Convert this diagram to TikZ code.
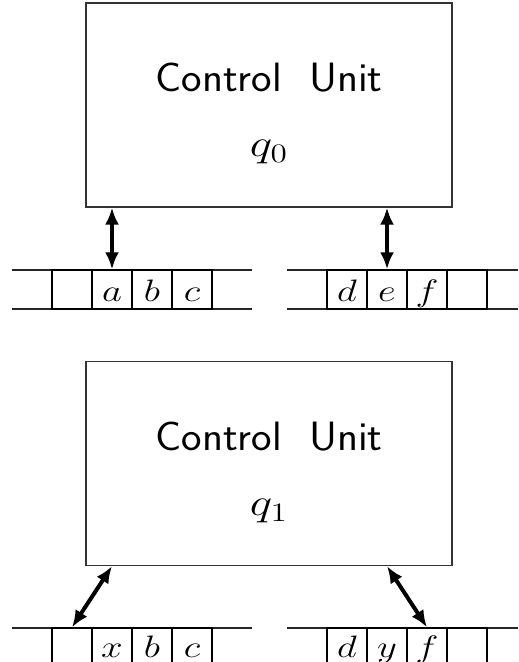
\RequirePackage{fix-cm}
\documentclass[tikz,border=0pt]{standalone}
\usepackage{graphicx}
\usetikzlibrary{arrows.meta}

% wide-set glyphs for the labels
\newcommand{\widesans}[1]{\scalebox{1.06}[1]{#1}}
\newcommand{\widemath}[1]{\scalebox{1.25}[1]{$#1$}}

\begin{document}
\begin{tikzpicture}[x=0.5pt,y=-0.5pt,
  unitbox/.style={draw=black!80, line width=0.65pt, minimum width=183pt, minimum height=102pt, inner sep=0pt},
  unitname/.style={font=\sffamily\fontsize{20.5}{24}\selectfont, inner sep=0pt, anchor=base},
  statename/.style={font=\fontsize{19}{23}\selectfont, inner sep=0pt, anchor=base},
  cell/.style={draw, line width=0.7pt, minimum width=20pt, minimum height=19.5pt, inner sep=0pt,
    text height=13pt, text depth=1.5pt, font=\fontsize{15.5}{18}\selectfont},
  symbol/.style={inner sep=0pt, anchor=base, font=\fontsize{15.5}{18}\selectfont},
  tapeline/.style={line width=0.8pt, draw=black!85},
  headlink/.style={line width=2pt, {Latex[length=8.5pt,width=7pt]}-{Latex[length=8.5pt,width=7pt]}}
]
\useasboundingbox (0,0) rectangle (518,662);

% ---------- configuration q0 ----------
\node[unitbox] (cu0) at (269,105) {};
\node[unitname] (cu0name) at (269,92) {\widesans{Control\ \ Unit}};
\node[statename] (cu0state) at (269,157) {\widemath{q_0}};

% left tape
\draw[tapeline] (12,270) -- (252,270) (12,309) -- (252,309);
\node[cell] (t1c1) at (72,289.5)  {};
\node[cell] (t1c2) at (112,289.5) {\widemath{a}};
\node[cell] (t1c3) at (152,289.5) {\widemath{b}};
\node[cell] (t1c4) at (192,289.5) {\widemath{c}};

% right tape
\draw[tapeline] (287,270) -- (518,270) (287,309) -- (518,309);
\node[cell] (t2c1) at (347,289.5) {\widemath{d}};
\node[cell] (t2c2) at (387,289.5) {\widemath{e}};
\node[cell] (t2c3) at (427,289.5) {\widemath{f}};
\node[cell] (t2c4) at (467,289.5) {};

\draw[headlink] (cu0.south -| t1c2.north) -- (t1c2.north);
\draw[headlink] (cu0.south -| t2c2.north) -- (t2c2.north);

% ---------- configuration q1 ----------
\node[unitbox] (cu1) at (269,463.5) {};
\node[unitname] (cu1name) at (269,450.5) {\widesans{Control\ \ Unit}};
\node[statename] (cu1state) at (269,515.5) {\widemath{q_1}};

% left tape (runs past the lower edge)
\draw[tapeline] (12,628) -- (252,628) (12,667) -- (252,667);
\node[cell] (t3c1) at (72,647.5)  {};
\node[cell] (t3c2) at (112,647.5) {};
\node[cell] (t3c3) at (152,647.5) {};
\node[cell] (t3c4) at (192,647.5) {};
\node[symbol] (t3s2) at (112,657.5) {\widemath{x}};
\node[symbol] (t3s3) at (152,657.5) {\widemath{b}};
\node[symbol] (t3s4) at (192,657.5) {\widemath{c}};

% right tape (runs past the lower edge)
\draw[tapeline] (287,628) -- (518,628) (287,667) -- (518,667);
\node[cell] (t4c1) at (347,647.5) {};
\node[cell] (t4c2) at (387,647.5) {};
\node[cell] (t4c3) at (427,647.5) {};
\node[cell] (t4c4) at (467,647.5) {};
\node[symbol] (t4s1) at (347,657.5) {\widemath{d}};
\node[symbol] (t4s2) at (387,657.5) {\widemath{y}};
\node[symbol] (t4s3) at (427,657.5) {\widemath{f}};

\coordinate (h3) at (cu1.south -| t3c2.north);
\coordinate (h4) at (cu1.south -| t4c2.north);
\draw[headlink] (h3) -- (t3c1.north);
\draw[headlink] (h4) -- (t4c3.north);
\end{tikzpicture}
\end{document}
